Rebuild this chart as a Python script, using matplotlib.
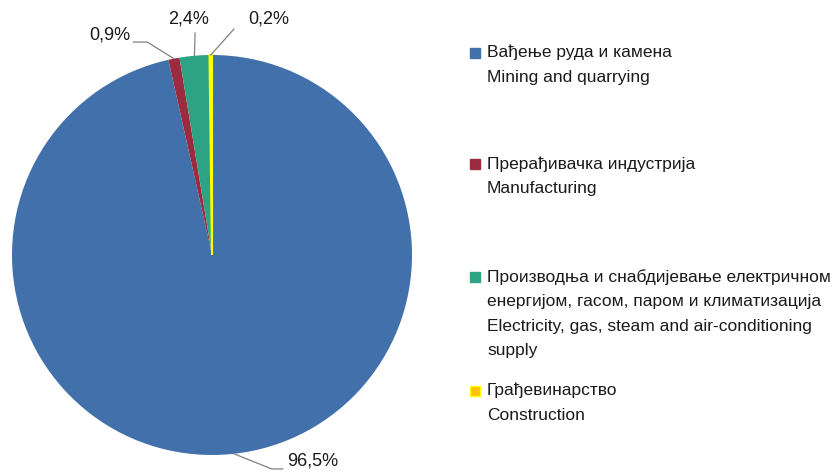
import numpy as np
import matplotlib
matplotlib.use("Agg")
import matplotlib.pyplot as plt
from matplotlib.patches import Rectangle

plt.rcParams["font.family"] = ["Liberation Sans", "DejaVu Sans"]

# data
shares = [96.5, 0.9, 2.4, 0.2]
pct_labels = ["96,5%", "0,9%", "2,4%", "0,2%"]
legend_labels = [
    "Вађење руда и камена\nMining and quarrying",
    "Прерађивачка индустрија\nManufacturing",
    "Производња и снабдијевање електричном\nенергијом, гасом, паром и климатизација\nElectricity, gas, steam and air-conditioning\nsupply",
    "Грађевинарство\nConstruction",
]
colors = ["#4170AA", "#9B2C40", "#2DA383", "#FFFF00"]
legend_colors = ["#4170AA", "#9B2C40", "#2DA383", "#FFC000"]

W, H = 836, 476
fig = plt.figure(figsize=(W / 100, H / 100), dpi=100)
ax = fig.add_axes([12 / W, 1 - 456 / H, 400 / W, 402 / H])

wedges, _ = ax.pie(shares, colors=colors, startangle=90, counterclock=False,
                   wedgeprops=dict(linewidth=0))
wedges[3].set_edgecolor("#FFFF00")
wedges[3].set_linewidth(1.5)
ax.set_xlim(-1, 1)
ax.set_ylim(-1, 1)
ax.set_aspect("equal")
ax.axis("off")


def px(x, y):
    # reference pixel -> pie data units
    return ((x - 212) / 201, (255 - y) / 201)


# leader line bends and label anchors, per slice
leader_pts = [
    [px(272, 470), px(283, 470)],
    [px(147, 41), px(133, 41)],
    [px(195, 32)],
    [px(234, 28)],
]
text_pos = [
    (px(287, 462), "left"),
    (px(130, 34), "right"),
    (px(188, 18), "center"),
    (px(248, 18), "left"),
]
for w, lab, pts, (tp, ha) in zip(wedges, pct_labels, leader_pts, text_pos):
    mid = np.deg2rad((w.theta1 + w.theta2) / 2)
    xs = [np.cos(mid)] + [p[0] for p in pts]
    ys = [np.sin(mid)] + [p[1] for p in pts]
    ax.plot(xs, ys, color="#808080", linewidth=0.9, clip_on=False)
    ax.text(tp[0], tp[1], lab, ha=ha, va="center", fontsize=13, color="#1a1a1a")

# legend drawn by hand
entry_tops = [45, 156, 269, 383]
for top, lab, c in zip(entry_tops, legend_labels, legend_colors):
    ec = "#FFFF00" if c == "#FFC000" else c
    fig.patches.append(Rectangle((470 / W, 1 - (top + 13) / H), 10 / W, 10 / H,
                                 transform=fig.transFigure, facecolor=c,
                                 edgecolor=ec, linewidth=1.0))
    fig.text(487 / W, 1 - top / H, lab, ha="left", va="top", fontsize=12.5,
             color="#1a1a1a", linespacing=1.78)

fig.savefig("out.png", dpi=100)
